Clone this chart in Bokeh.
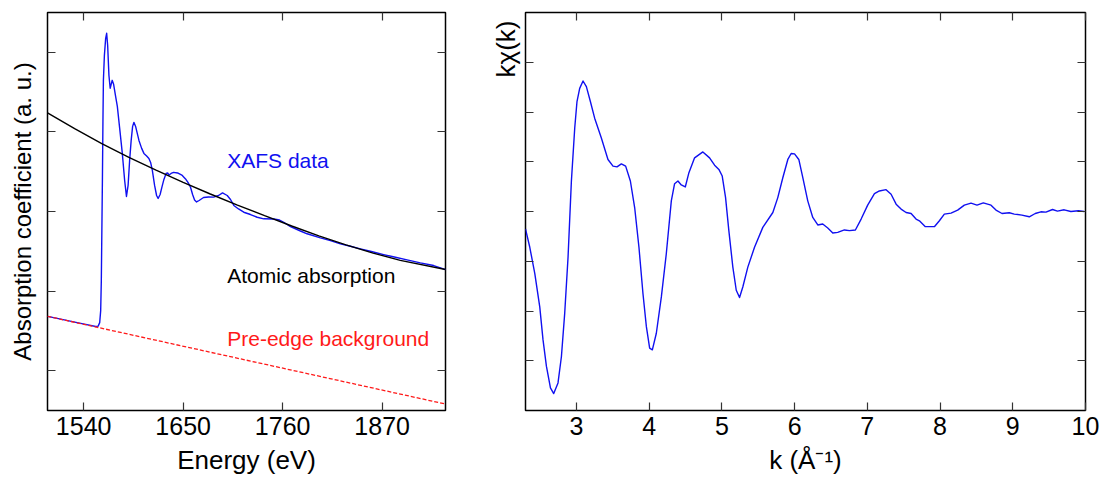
from bokeh.plotting import figure
from bokeh.layouts import row
from bokeh.models import Range1d, FixedTicker, LinearAxis, Label, Title, CustomJSTickFormatter
from bokeh.embed import file_html
from bokeh.resources import INLINE

# ---------------- data: left panel (absorption spectrum) ----------------
xafs_energy = [1500.2, 1514.6, 1536.7, 1553.3, 1556.0, 1557.7, 1558.8, 1559.5, 1560.1, 1560.7,
               1561.3, 1561.8, 1562.9, 1564.3, 1565.4, 1566.5, 1567.9, 1569.3, 1571.5, 1573.1,
               1575.3, 1577.2, 1579.8, 1582.7, 1585.3, 1587.3, 1589.1, 1590.8, 1592.5, 1594.1,
               1595.5, 1597.4, 1601.1, 1604.1, 1606.6, 1609.6, 1612.1, 1614.0, 1615.9, 1618.4,
               1620.6, 1622.3, 1624.5, 1626.7, 1628.7, 1631.1, 1632.8, 1634.4, 1636.6, 1639.4,
               1643.8, 1649.0, 1652.6, 1656.0, 1658.2, 1660.4, 1662.6, 1664.8, 1667.6, 1672.5,
               1678.0, 1683.6, 1689.1, 1693.5, 1698.7, 1702.3, 1706.0, 1711.2, 1717.0, 1724.4,
               1731.8, 1739.1, 1750.2, 1756.5, 1761.2, 1768.6, 1779.6, 1787.0, 1801.7, 1812.8,
               1823.8, 1834.9, 1845.9, 1858.1, 1871.6, 1884.6, 1897.5, 1912.2, 1926.9, 1940.3]
xafs_mu = [1.683, 1.648, 1.594, 1.555, 1.560, 1.604, 1.755, 2.132, 2.761, 3.390,
           4.145, 4.648, 4.962, 5.176, 5.239, 5.088, 4.711, 4.548, 4.648, 4.598,
           4.447, 4.321, 4.044, 3.730, 3.390, 3.189, 3.327, 3.642, 3.893, 4.069,
           4.120, 4.069, 3.893, 3.793, 3.730, 3.698, 3.667, 3.616, 3.516, 3.327,
           3.201, 3.164, 3.214, 3.315, 3.403, 3.478, 3.484, 3.459, 3.478, 3.491,
           3.484, 3.453, 3.409, 3.352, 3.302, 3.214, 3.145, 3.120, 3.138, 3.176,
           3.182, 3.180, 3.201, 3.233, 3.201, 3.151, 3.076, 3.032, 2.991, 2.962,
           2.928, 2.908, 2.906, 2.893, 2.865, 2.811, 2.755, 2.720, 2.669, 2.635,
           2.594, 2.564, 2.531, 2.497, 2.459, 2.425, 2.393, 2.355, 2.321, 2.270]

atomic_energy = [1500, 1530, 1560, 1590, 1620, 1650, 1680, 1710, 1740, 1770, 1800, 1830, 1860, 1890, 1940]
atomic_mu = [4.238, 4.040, 3.852, 3.681, 3.521, 3.367, 3.220, 3.081, 2.947, 2.818,
             2.694, 2.581, 2.478, 2.386, 2.272]

preedge_energy = [1500, 1940]
preedge_mu = [1.683, 0.581]

energy_ticks = [1540, 1650, 1760, 1870]
mu_ticks = [1, 2, 3, 4, 5]

# ---------------- data: right panel (EXAFS k*chi(k)) ----------------
k_values = [2.300, 2.359, 2.428, 2.496, 2.541, 2.588, 2.643, 2.688, 2.747, 2.794,
            2.839, 2.885, 2.931, 2.977, 3.008, 3.045, 3.091, 3.137, 3.192, 3.251,
            3.343, 3.434, 3.503, 3.558, 3.618, 3.677, 3.742, 3.801, 3.860, 3.915,
            3.962, 4.007, 4.044, 4.099, 4.168, 4.236, 4.305, 4.350, 4.396, 4.442,
            4.497, 4.547, 4.625, 4.739, 4.831, 4.900, 4.959, 5.005, 5.051, 5.096,
            5.151, 5.198, 5.243, 5.288, 5.357, 5.449, 5.563, 5.701, 5.769, 5.838,
            5.907, 5.953, 5.999, 6.058, 6.113, 6.181, 6.250, 6.319, 6.387, 6.456,
            6.525, 6.593, 6.685, 6.754, 6.836, 6.915, 7.005, 7.098, 7.166, 7.258,
            7.327, 7.396, 7.464, 7.533, 7.602, 7.670, 7.716, 7.798, 7.922, 7.991,
            8.059, 8.151, 8.242, 8.334, 8.426, 8.508, 8.595, 8.701, 8.769, 8.852,
            8.952, 9.021, 9.126, 9.227, 9.309, 9.387, 9.456, 9.547, 9.615, 9.707,
            9.799, 9.903, 9.981]
kchi_values = [-0.350, -0.719, -1.250, -1.916, -2.581, -3.114, -3.545, -3.659, -3.445, -2.914,
               -2.048, -0.918, 0.613, 1.677, 2.210, 2.475, 2.623, 2.509, 2.210, 1.876,
               1.477, 1.046, 0.912, 0.898, 0.958, 0.912, 0.613, 0.080, -0.719, -1.649,
               -2.315, -2.746, -2.780, -2.447, -1.717, -0.850, 0.214, 0.559, 0.613, 0.533,
               0.493, 0.780, 1.078, 1.198, 1.078, 0.932, 0.846, 0.713, 0.279, -0.385,
               -1.118, -1.583, -1.729, -1.517, -1.118, -0.719, -0.319, -0.020, 0.279, 0.679,
               1.046, 1.166, 1.158, 1.046, 0.679, 0.214, -0.120, -0.271, -0.251, -0.331,
               -0.431, -0.419, -0.371, -0.385, -0.371, -0.152, 0.128, 0.359, 0.413, 0.439,
               0.347, 0.148, 0.048, -0.020, -0.040, -0.152, -0.186, -0.305, -0.305, -0.186,
               -0.052, -0.032, 0.028, 0.128, 0.168, 0.128, 0.174, 0.128, 0.028, -0.040,
               -0.026, -0.052, -0.072, -0.106, -0.040, -0.006, -0.012, 0.040, 0.008, 0.034,
               0.000, 0.014, 0.000]

k_ticks = [3, 4, 5, 6, 7, 8, 9, 10]
kchi_ticks = [-3, -2, -1, 0, 1, 2, 3]

FONT = "Liberation Sans"
BLUE = "#1010f0"
RED = "#ff1a1a"


def tick_style(ax):
    ax.axis_line_color = None
    ax.major_tick_in = 8
    ax.major_tick_out = 0
    ax.minor_tick_line_color = None
    ax.major_tick_line_color = "#333333"
    ax.major_tick_line_width = 1.2
    ax.major_label_text_font = FONT
    ax.major_label_text_font_size = "25px"
    ax.major_label_text_color = "black"
    ax.axis_label_text_font = FONT
    ax.axis_label_text_font_size = "26px"
    ax.axis_label_text_font_style = "normal"
    ax.axis_label_text_color = "black"


def blank_labels(ax):
    ax.formatter = CustomJSTickFormatter(code="return ''")
    ax.major_label_standoff = 0


def style_axes(p, xticks, yticks):
    p.grid.visible = False
    p.outline_line_color = "black"
    p.outline_line_width = 1.5
    p.background_fill_color = "white"
    p.border_fill_color = "white"
    bottom = p.below[0]
    left = p.left[0]
    for ax in (bottom, left):
        tick_style(ax)
    bottom.ticker = FixedTicker(ticks=xticks)
    left.ticker = FixedTicker(ticks=yticks)
    bottom.major_label_standoff = 6
    blank_labels(left)
    top = LinearAxis(ticker=FixedTicker(ticks=xticks))
    right = LinearAxis(ticker=FixedTicker(ticks=yticks))
    for ax in (top, right):
        tick_style(ax)
        blank_labels(ax)
    p.add_layout(top, "above")
    p.add_layout(right, "right")
    return bottom, left


# ---------------- left figure ----------------
p1 = figure(width=460, height=481, output_backend="svg", toolbar_location=None,
            x_range=Range1d(1500, 1940), y_range=Range1d(0.5, 5.5),
            min_border_left=47, min_border_right=15, min_border_top=12, min_border_bottom=71)
b1, l1 = style_axes(p1, energy_ticks, mu_ticks)
b1.axis_label = "Energy (eV)"
b1.axis_label_standoff = 7
l1.axis_label = "Absorption coefficient (a. u.)"
l1.axis_label_text_font_size = "24px"
l1.axis_label_standoff = 12

p1.line(xafs_energy, xafs_mu, line_color=BLUE, line_width=1.4, line_join="round")
p1.line(atomic_energy, atomic_mu, line_color="black", line_width=1.4)
p1.line(preedge_energy, preedge_mu, line_color=RED, line_width=1.3, line_dash="4 2")

label_x = 1698.7
for txt, yy, col in [("XAFS data", 3.64, BLUE),
                     ("Atomic absorption", 2.20, "black"),
                     ("Pre-edge background", 1.40, RED)]:
    p1.add_layout(Label(x=label_x, y=yy, text=txt, text_color=col, text_font=FONT,
                        text_font_size="21px", text_baseline="alphabetic", text_align="left"))

# ---------------- right figure ----------------
p2 = figure(width=643, height=481, output_backend="svg", toolbar_location=None,
            x_range=Range1d(2.3, 10), y_range=Range1d(-4, 4),
            min_border_left=65, min_border_right=18, min_border_top=10, min_border_bottom=70)
b2, l2 = style_axes(p2, k_ticks, kchi_ticks)
b2.axis_label = "k (Å⁻¹)"
b2.axis_label_standoff = 7
p2.line(k_values, kchi_values, line_color=BLUE, line_width=1.4, line_join="round")

# y-axis title sits at the top of the left side, as in the reference
ytitle = Title(text="kχ(k)", align="right", text_font=FONT, text_font_size="26px",
               text_font_style="normal", text_color="black", offset=8)
p2.add_layout(ytitle, "left")

layout = row(p1, p2)
open("out.html", "w").write(file_html(layout, INLINE))
